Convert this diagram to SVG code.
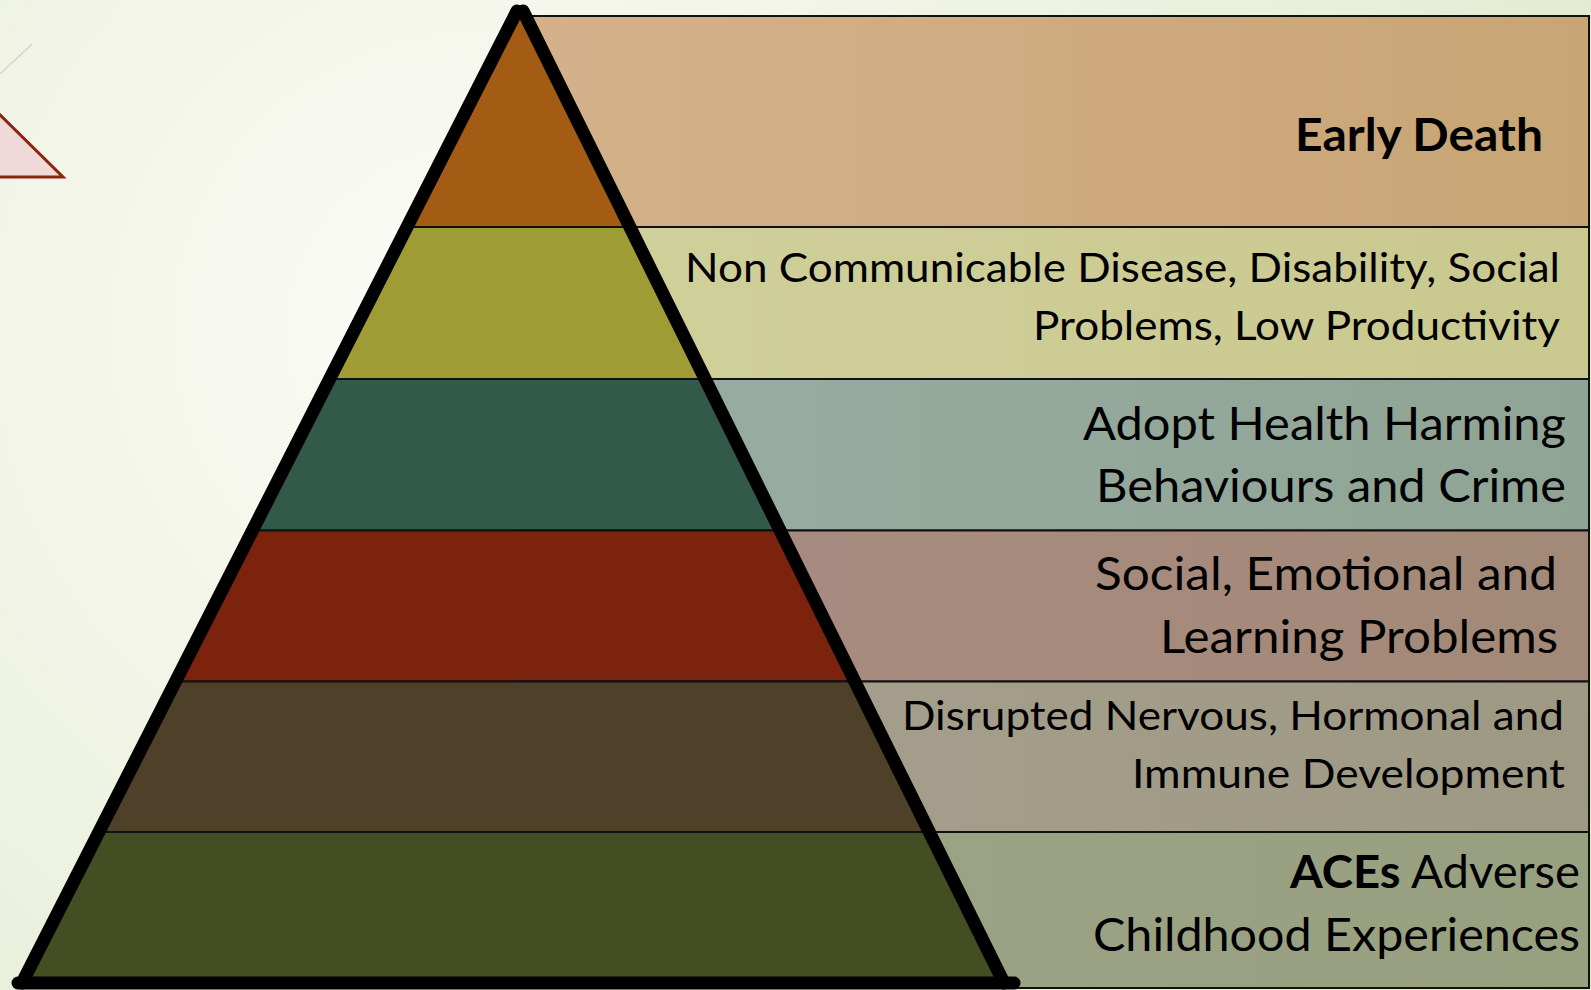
<svg xmlns="http://www.w3.org/2000/svg" width="1591" height="990" viewBox="0 0 1591 990">
  <defs>
    <radialGradient id="bg" cx="470" cy="330" r="1250" gradientUnits="userSpaceOnUse">
      <stop offset="0" stop-color="#FBFCF7"/>
      <stop offset="0.35" stop-color="#F2F5E8"/>
      <stop offset="1" stop-color="#E2EACF"/>
    </radialGradient>
    <linearGradient id="g1" x1="0" y1="0" x2="1" y2="0"><stop offset="0" stop-color="#D5B18B"/><stop offset="1" stop-color="#C8A574"/></linearGradient>
    <linearGradient id="g2" x1="0" y1="0" x2="1" y2="0"><stop offset="0" stop-color="#D0D09C"/><stop offset="1" stop-color="#C9C88E"/></linearGradient>
    <linearGradient id="g3" x1="0" y1="0" x2="1" y2="0"><stop offset="0" stop-color="#98AEA3"/><stop offset="1" stop-color="#8FA494"/></linearGradient>
    <linearGradient id="g4" x1="0" y1="0" x2="1" y2="0"><stop offset="0" stop-color="#A98C83"/><stop offset="1" stop-color="#A38977"/></linearGradient>
    <linearGradient id="g5" x1="0" y1="0" x2="1" y2="0"><stop offset="0" stop-color="#A6A08F"/><stop offset="1" stop-color="#9E9983"/></linearGradient>
    <linearGradient id="g6" x1="0" y1="0" x2="1" y2="0"><stop offset="0" stop-color="#9DA488"/><stop offset="1" stop-color="#97A07F"/></linearGradient>
    <style>
      .box { stroke: #111; stroke-width: 2; }
      .seg { stroke: #111; stroke-width: 2; stroke-linejoin: round; }
      .lbl { font-family: Lato, "Liberation Sans", sans-serif; fill: #000; }
      .b { font-weight: bold; }
      .edge { stroke: #000; stroke-width: 13; stroke-linecap: round; fill: none; }
    </style>
  </defs>

  <rect x="0" y="0" width="1591" height="990" fill="url(#bg)"/>
  <g id="decor">
    <line x1="0" y1="74" x2="32" y2="44" stroke="#D3D6C6" stroke-width="1.5"/>
    <polygon points="-3,112 63,177 -3,177" fill="#EFD9D9" stroke="#8B2510" stroke-width="3"/>
  </g>

  <g id="level1">
    <rect class="box" x="520" y="16" width="1069" height="211" fill="url(#g1)"/>
    <polygon class="seg" points="520,11 407,227 630,227" fill="#A45C14"/>
    <text class="lbl b" x="1295" y="151" font-size="46.5" textLength="248" lengthAdjust="spacingAndGlyphs">Early Death</text>
  </g>

  <g id="level2">
    <rect class="box" x="520" y="227" width="1069" height="152" fill="url(#g2)"/>
    <polygon class="seg" points="407,227 630,227 705,379 330,379" fill="#9F9C36"/>
    <text class="lbl" x="685" y="282" font-size="40.5" textLength="875" lengthAdjust="spacingAndGlyphs">Non Communicable Disease, Disability, Social</text>
    <text class="lbl" x="1033" y="339.5" font-size="40.5" textLength="527" lengthAdjust="spacingAndGlyphs">Problems, Low Productivity</text>
  </g>

  <g id="level3">
    <rect class="box" x="520" y="379" width="1069" height="151.5" fill="url(#g3)"/>
    <polygon class="seg" points="330,379 705,379 780,530.5 252,530.5" fill="#33594A"/>
    <text class="lbl" x="1083" y="439.5" font-size="45.5" textLength="483" lengthAdjust="spacingAndGlyphs">Adopt Health Harming</text>
    <text class="lbl" x="1096" y="501.5" font-size="45.5" textLength="470" lengthAdjust="spacingAndGlyphs">Behaviours and Crime</text>
  </g>

  <g id="level4">
    <rect class="box" x="520" y="530.5" width="1069" height="151" fill="url(#g4)"/>
    <polygon class="seg" points="252,530.5 780,530.5 855,681.5 175.5,681.5" fill="#7C230E"/>
    <text class="lbl" x="1095" y="590" font-size="46.5" textLength="462" lengthAdjust="spacingAndGlyphs">Social, Emotional and</text>
    <text class="lbl" x="1160" y="652.5" font-size="46.5" textLength="398" lengthAdjust="spacingAndGlyphs">Learning Problems</text>
  </g>

  <g id="level5">
    <rect class="box" x="520" y="681.5" width="1069" height="150.5" fill="url(#g5)"/>
    <polygon class="seg" points="175.5,681.5 855,681.5 929,832 99,832" fill="#4F4129"/>
    <text class="lbl" x="902" y="729.5" font-size="41" textLength="662" lengthAdjust="spacingAndGlyphs">Disrupted Nervous, Hormonal and</text>
    <text class="lbl" x="1132" y="787.5" font-size="41" textLength="433" lengthAdjust="spacingAndGlyphs">Immune Development</text>
  </g>

  <g id="level6">
    <rect class="box" x="520" y="832" width="1069" height="156" fill="url(#g6)"/>
    <polygon class="seg" points="99,832 929,832 1004,983 22,983" fill="#434F23"/>
    <text class="lbl" x="1290" y="887.5" font-size="46.5" textLength="290" lengthAdjust="spacingAndGlyphs"><tspan class="b">ACEs</tspan> Adverse</text>
    <text class="lbl" x="1093" y="950.7" font-size="46.5" textLength="487" lengthAdjust="spacingAndGlyphs">Childhood Experiences</text>
  </g>

  <g id="connectors">
    <line class="edge" x1="517" y1="11" x2="22" y2="983"/>
    <line class="edge" x1="523" y1="11" x2="1004" y2="983"/>
    <line class="edge" x1="18" y1="983" x2="1014" y2="983"/>
  </g>
</svg>
